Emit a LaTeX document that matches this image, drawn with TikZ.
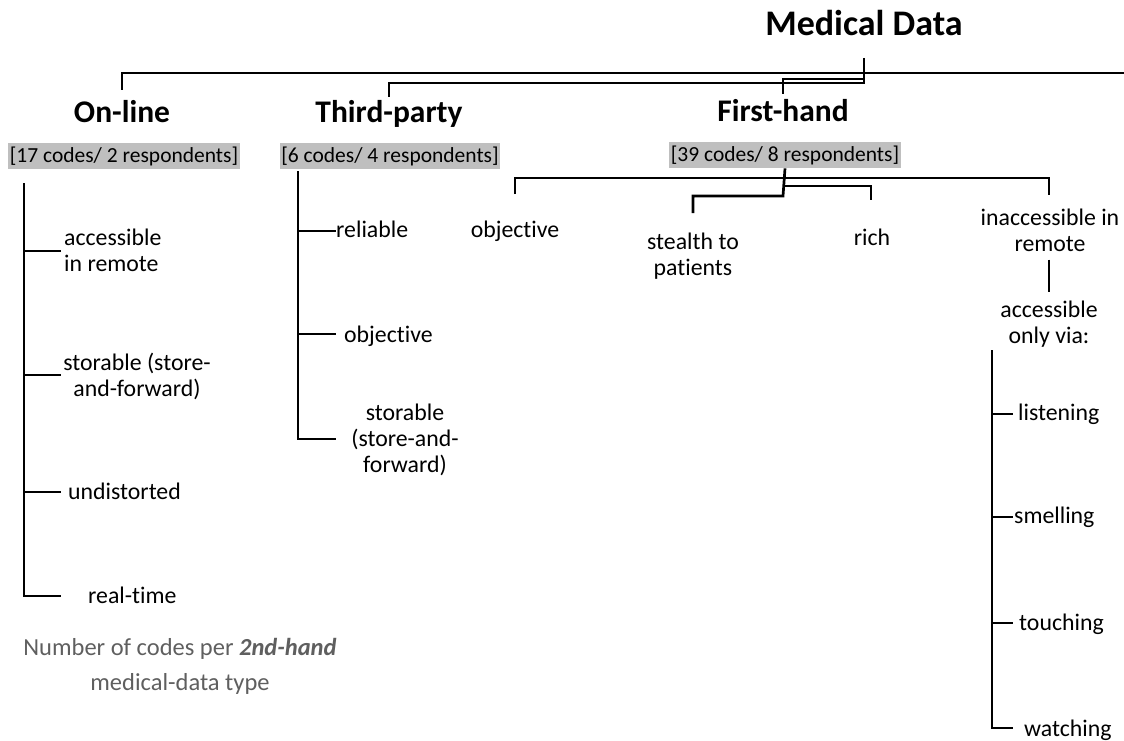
\documentclass[tikz,border=0pt]{standalone}
\usepackage{fontspec}
\setmainfont{Carlito}[Ligatures={NoCommon}]
\definecolor{boxgray}{RGB}{191,191,191}
\definecolor{capgray}{RGB}{95,95,95}
\begin{document}
\begin{tikzpicture}[x=1pt,y=-1pt,
  conn/.style={line width=2.7pt},
  topconn/.style={line width=2.3pt},
  title/.style={font=\fontsize{36}{40}\selectfont\bfseries, inner sep=0pt, anchor=base},
  head/.style={font=\fontsize{31.5}{36}\selectfont\bfseries, inner sep=0pt, anchor=base},
  lbl/.style={font=\fontsize{23.8}{26}\selectfont, inner sep=0pt},
  cnt/.style={font=\fontsize{21.5}{26}\selectfont, fill=boxgray, inner xsep=1.5pt,
              inner ysep=0pt, text height=19.5pt, text depth=6.5pt, anchor=north},
]
\useasboundingbox (0,0) rectangle (1124,741);

% headings
\node[title] (med) at (864,36) {Medical Data};
\node[head] (onl) at (122,123) {On-line};
\node[head] (thp) at (389,123) {Third-party};
\node[head] (fh)  at (783,122) {First-hand};

% code counts
\node[cnt] (onlc) at (124,143) {[17 codes/ 2 respondents]};
\node[cnt] (thpc) at (390,143) {[6 codes/ 4 respondents]};
\node[cnt] (fhc)  at (785,142) {[39 codes/ 8 respondents]};

% top-level brackets
\coordinate (mroot) at (864,58);
\coordinate (onltop) at (122,90);
\coordinate (thptop) at (389,97);
\coordinate (fhtop) at (783,94);
\draw[topconn] (onltop) -- (122,73) -- (1124,73);
\draw[topconn] (mroot) -- (864,83) -- (thptop |- 0,83) -- (thptop);
\draw[topconn] (864,79) -- (fhtop |- 0,79) -- (fhtop);

% On-line branch
\node[lbl, anchor=west, align=left] (o1) at (64,250) {accessible\\in remote};
\node[lbl, align=center] (o2) at (137,376.5) {storable (store-\\and-forward)};
\node[lbl, anchor=base west] (o3) at (68,499) {undistorted};
\node[lbl, anchor=base west] (o4) at (88,603) {real-time};
\draw[conn] (24,183) -- (24,596) -- (61,596);
\draw[conn] (24,251) -- (61,251);
\draw[conn] (24,375) -- (61,375);
\draw[conn] (24,492) -- (61,492);

% Third-party branch
\node[lbl, anchor=base west] (t1) at (336,237) {reliable};
\node[lbl, anchor=base west] (t2) at (344,342) {objective};
\node[lbl, align=center] (t3) at (405,440) {storable\\(store-and-\\forward)};
\draw[conn] (298,171) -- (298,439) -- (t1.west |- 0,439);
\draw[conn] (298,231) -- (t1.west |- 0,231);
\draw[conn] (298,334) -- (t1.west |- 0,334);

% First-hand branch
\node[lbl, anchor=base] (f1) at (515,237) {objective};
\node[lbl, align=center] (f2) at (693,256) {stealth to\\patients};
\node[lbl, anchor=base] (f3) at (872,245) {rich};
\node[lbl, align=center] (f4) at (1050,230) {inaccessible in\\remote};
\draw[conn] (fhc.south) -- (783,196) -- (693,196) -- (693,213);
\draw[conn] (515,194) -- (515,178) -- (1049,178) -- (1049,195);
\draw[conn] (783,186) -- (871,186) -- (871,200);

% senses
\node[lbl, align=center] (f5) at (1049,324.5) {accessible\\only via:};
\draw[conn] (f4.south -| 1049,0) ++(0,8) -- (1049,292);
\node[lbl, anchor=base west] (s1) at (1018,420) {listening};
\node[lbl, anchor=base west] (s2) at (1014,523) {smelling};
\node[lbl, anchor=base west] (s3) at (1019,630) {touching};
\node[lbl, anchor=base west] (s4) at (1024,736) {watching};
\draw[conn] (992,350) -- (992,728) -- (1013,728);
\draw[conn] (992,414) -- (1013,414);
\draw[conn] (992,517) -- (1013,517);
\draw[conn] (992,623) -- (1013,623);

% caption
\node[font=\fontsize{24.5}{35}\selectfont, text=capgray, align=center, inner sep=0pt]
  (cap) at (180,666.5) {Number of codes per \textbf{\textit{2nd-hand}}\\medical-data type};
\end{tikzpicture}
\end{document}
